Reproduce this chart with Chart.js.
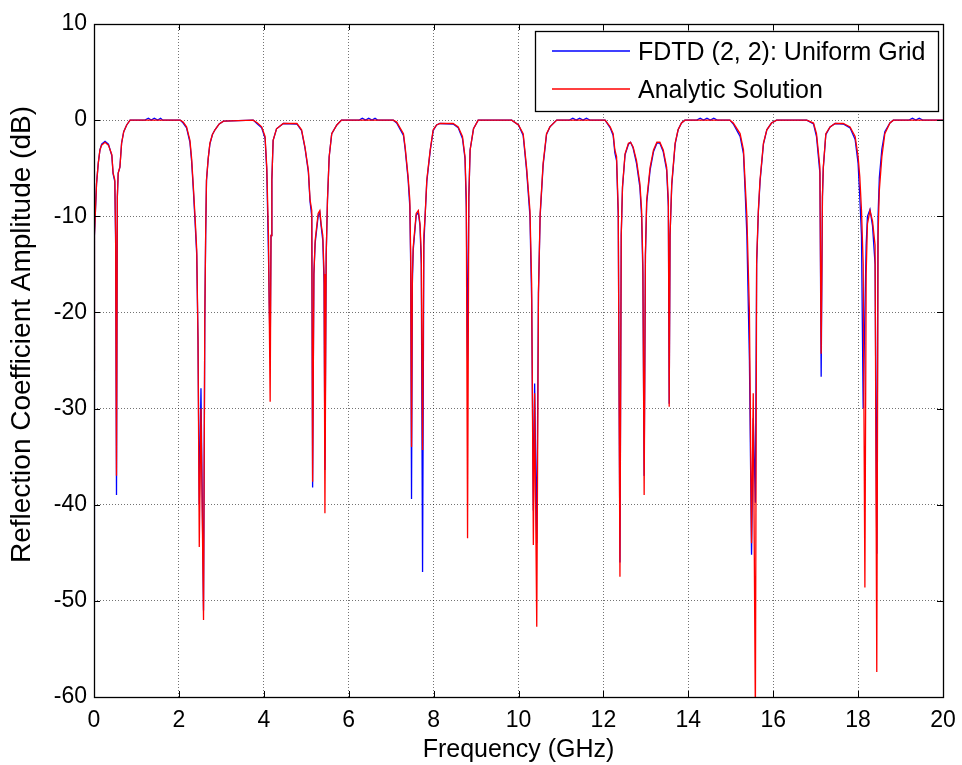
<!DOCTYPE html>
<html>
<head>
<meta charset="utf-8">
<script src="https://cdn.jsdelivr.net/npm/chart.js@4/dist/chart.umd.min.js"></script>
<style>
  html, body { margin: 0; padding: 0; background: #fff; }
  canvas { display: block; }
</style>
</head>
<body>
<canvas id="reflectionChart" width="962" height="765"></canvas>
<script>
/* ---------------- data ---------------- */
const freqGHz = [
  0.00, 0.01, 0.06, 0.10, 0.14, 0.18, 0.26, 0.34, 0.42, 0.45, 0.49, 0.51, 0.53, 0.55, 0.57, 0.61, 0.65, 0.70, 0.77, 0.85,
  1.20, 1.28, 1.35, 1.42, 1.50, 1.57, 1.62,
  2.03, 2.10, 2.18, 2.26, 2.30, 2.34, 2.38, 2.42, 2.45, 2.48, 2.52, 2.58, 2.61, 2.63, 2.65, 2.69, 2.73, 2.79, 2.85, 2.95, 3.05,
  3.75, 3.85, 3.95, 4.03, 4.07, 4.11, 4.15, 4.17, 4.19, 4.22, 4.30, 4.46,
  4.78, 4.89, 4.97, 5.05, 5.09, 5.13, 5.15, 5.18, 5.21, 5.28, 5.32, 5.35, 5.39, 5.42, 5.44, 5.47, 5.50, 5.54, 5.60, 5.72, 5.83,
  6.25, 6.32, 6.40, 6.47, 6.55, 6.62, 6.68,
  7.05, 7.13, 7.29, 7.33, 7.40, 7.44, 7.46, 7.48, 7.50, 7.52, 7.59, 7.64, 7.68, 7.71, 7.74, 7.77, 7.80, 7.84, 7.92, 7.99, 8.07, 8.15,
  8.46, 8.58, 8.68, 8.74, 8.77, 8.80, 8.83, 8.86, 8.94, 9.05,
  9.84, 10.00, 10.11, 10.19, 10.27, 10.31, 10.35, 10.38, 10.43, 10.47, 10.51, 10.58, 10.66, 10.74, 10.90,
  11.20, 11.28, 11.36, 11.44, 11.52, 11.60, 11.68,
  12.04, 12.16, 12.23, 12.27, 12.31, 12.35, 12.39, 12.42, 12.45, 12.51, 12.59, 12.64, 12.70, 12.78, 12.86, 12.90, 12.93, 12.96,
  12.99, 13.02, 13.10, 13.18, 13.26, 13.33, 13.41, 13.49, 13.53, 13.55, 13.57, 13.61, 13.69, 13.76, 13.84, 13.92,
  14.20, 14.28, 14.36, 14.44, 14.52, 14.60, 14.68,
  14.98, 15.06, 15.22, 15.30, 15.34, 15.38, 15.44, 15.49, 15.53, 15.58, 15.61, 15.65, 15.69, 15.77, 15.85, 15.96, 16.08,
  16.79, 16.95, 17.02, 17.06, 17.10, 17.13, 17.16, 17.18, 17.24, 17.34, 17.46,
  17.65, 17.81, 17.93, 18.00, 18.04, 18.08, 18.12, 18.16, 18.19, 18.22, 18.28, 18.34, 18.40, 18.44, 18.47, 18.50, 18.56, 18.63, 18.75, 18.83,
  19.20, 19.28, 19.36, 19.44, 19.52, 20.00
];

const analyticDb = [
  -26, -12, -6.6, -4.5, -3.1, -2.6, -2.3, -2.6, -3.6, -5.5, -6.2, -12, -37, -8, -5.5, -4.9, -2.4, -1.2, -0.5, 0,
  0, 0, 0, 0, 0, 0, 0,
  0, -0.2, -0.7, -2.1, -4, -6.9, -10, -13.5, -22.5, -44.4, -30, -52, -20.8, -12, -6.2, -4, -2.4, -1.5, -1, -0.4, -0.1,
  0, -0.3, -0.7, -1.7, -4.9, -12, -29.3, -12, -6.2, -2.1, -0.9, -0.35,
  -0.35, -1.0, -2.8, -5.2, -8.3, -9.4, -37.6, -16, -12.5, -9.7, -9.4, -10.8, -12, -16, -40.9, -14, -8.3, -3.8, -1.4, -0.5, 0,
  0, 0, 0, 0, 0, 0, 0,
  0, -0.2, -1.4, -2.8, -5.9, -8.3, -14, -34, -16, -13.2, -9.7, -9.4, -10.8, -14, -34.3, -12, -10, -6.2, -3.1, -1.0, -0.5, -0.35,
  -0.35, -0.7, -1.7, -3.8, -8, -43.5, -8, -3.1, -0.9, 0,
  0, -0.5, -1.4, -4.9, -9.4, -17, -44.2, -28.4, -52.7, -18, -9.7, -4.5, -1.4, -0.7, 0,
  0, 0, 0, 0, 0, 0, 0,
  0, -0.7, -1.4, -3.1, -3.8, -9.4, -47.5, -12, -6.9, -3.5, -2.4, -2.3, -2.8, -4.2, -6.6, -9.4, -15, -39,
  -14, -8.3, -4.9, -3.1, -2.3, -2.3, -3.1, -4.9, -8.3, -29.8, -12, -6.6, -2.4, -1.0, -0.3, 0,
  0, 0, 0, 0, 0, 0, 0,
  0, -0.3, -1.4, -3.1, -6.6, -10, -20, -44, -28.4, -62, -14.6, -9.4, -6.2, -2.4, -1.0, -0.3, 0,
  0, -0.3, -1.4, -3.1, -4.9, -24.3, -8, -4.9, -1.4, -0.7, -0.35,
  -0.35, -0.7, -1.7, -3.8, -5.9, -9.4, -15, -48.6, -16, -10.8, -9.4, -10.5, -13, -57.4, -12, -7.3, -3.8, -1.4, -0.3, 0,
  0, 0, 0, 0, 0, 0
];

const fdtdDb = [
  -50, -12, -6.6, -4.5, -3.1, -2.5, -2.2, -2.5, -3.7, -5.6, -6.4, -13, -39, -8, -5.5, -4.9, -2.4, -1.2, -0.5, 0,
  0, 0.2, 0, 0.2, 0, 0.2, 0,
  0, -0.3, -0.8, -2.3, -4.3, -7.2, -10.5, -14, -23, -40, -27.9, -51, -21, -12.2, -6.3, -4, -2.5, -1.5, -1, -0.4, -0.1,
  0, -0.4, -0.8, -1.9, -5.2, -14, -24.6, -12, -6.2, -2.1, -0.9, -0.35,
  -0.4, -1.1, -2.9, -5.4, -8.5, -10, -38.2, -16, -12.8, -10, -9.6, -11, -12.5, -17, -36.4, -14, -8.3, -3.8, -1.4, -0.5, 0,
  0, 0.2, 0, 0.2, 0, 0.2, 0,
  0, -0.3, -1.6, -3.0, -6.2, -9, -15, -39.4, -17, -13.5, -9.9, -9.6, -11, -15, -47, -13, -10, -6.4, -3.2, -1.1, -0.5, -0.35,
  -0.4, -0.8, -1.9, -4, -9, -25, -8, -3.1, -0.9, 0,
  0, -0.5, -1.6, -5.2, -10, -18.7, -40.6, -27.4, -44, -18, -10, -4.7, -1.5, -0.7, 0,
  0, 0.2, 0, 0.2, 0, 0.2, 0,
  0, -0.8, -1.6, -3.4, -4.2, -10, -46, -12, -7, -3.6, -2.5, -2.3, -2.9, -4.5, -7, -10, -16, -37,
  -14, -8.6, -5.2, -3.3, -2.4, -2.4, -3.3, -5.2, -9, -29.5, -12, -6.8, -2.5, -1.0, -0.3, 0,
  0, 0.2, 0, 0.2, 0, 0.2, 0,
  0, -0.4, -1.7, -3.5, -7.5, -12, -25, -45.2, -31, -39.8, -15, -9.6, -6.4, -2.5, -1.0, -0.3, 0,
  0, -0.4, -1.7, -3.6, -5.5, -26.7, -8, -5, -1.5, -0.7, -0.35,
  -0.4, -0.8, -2, -4.5, -8, -12, -30, -20, -13, -10, -9.3, -11, -15, -45.1, -10, -6, -3, -1.2, -0.3, 0,
  0, 0.2, 0, 0.2, 0, 0
];

const xTicks = [0, 2, 4, 6, 8, 10, 12, 14, 16, 18, 20];
const yTicks = [-60, -50, -40, -30, -20, -10, 0, 10];

const seriesLabels = ["FDTD (2, 2): Uniform Grid", "Analytic Solution"];
const yTitle = "Reflection Coefficient Amplitude (dB)";

/* ---------------- helpers / plugins ---------------- */
const FONT = '"Liberation Sans", Arial, sans-serif';

const toPoints = (ys) => freqGHz.map((f, i) => ({ x: f, y: ys[i] }));

// MATLAB style: box around the axes + inward tick marks + boxed legend inside
const matlabFrame = {
  id: "matlabFrame",
  afterDraw(chart) {
    const { ctx, chartArea: a, scales } = chart;
    const xs = scales.x, ys = scales.y;
    const tl = 6;

    ctx.save();
    ctx.strokeStyle = "#000";
    ctx.lineWidth = 1;
    ctx.beginPath();
    xTicks.forEach((v) => {
      const px = Math.round(xs.getPixelForValue(v)) + 0.5;
      ctx.moveTo(px, a.bottom); ctx.lineTo(px, a.bottom - tl);
      ctx.moveTo(px, a.top); ctx.lineTo(px, a.top + tl);
    });
    yTicks.forEach((v) => {
      const py = Math.round(ys.getPixelForValue(v)) + 0.5;
      ctx.moveTo(a.left, py); ctx.lineTo(a.left + tl, py);
      ctx.moveTo(a.right, py); ctx.lineTo(a.right - tl, py);
    });
    ctx.stroke();

    ctx.lineWidth = 1.3;
    ctx.strokeRect(Math.round(a.left) + 0.5, Math.round(a.top) + 0.5,
      Math.round(a.right - a.left), Math.round(a.bottom - a.top));

    // y axis title (MATLAB puts it a little above the centre)
    ctx.save();
    ctx.translate(22, ys.getPixelForValue(-22.3));
    ctx.rotate(-Math.PI / 2);
    ctx.font = "28px " + FONT;
    ctx.fillStyle = "#000";
    ctx.textAlign = "center";
    ctx.textBaseline = "middle";
    ctx.fillText(yTitle, 0, 0);
    ctx.restore();

    // legend
    const lx = Math.round(a.right - 408), ly = Math.round(a.top + 7), lw = 403, lh = 80;
    ctx.fillStyle = "#fff";
    ctx.fillRect(lx, ly, lw, lh);
    ctx.lineWidth = 1.3;
    ctx.strokeRect(lx + 0.5, ly + 0.5, lw, lh);

    const entries = [chart.data.datasets[0], chart.data.datasets[1]];
    ctx.font = "25px " + FONT;
    ctx.textBaseline = "middle";
    entries.forEach((ds, i) => {
      const y = Math.round(ly + 20 + i * 38);
      ctx.strokeStyle = ds.borderColor;
      ctx.lineWidth = 1.5;
      ctx.beginPath();
      ctx.moveTo(lx + 17, y); ctx.lineTo(lx + 95, y);
      ctx.stroke();
      ctx.fillStyle = "#000";
      ctx.fillText(ds.label, lx + 103, y + 2);
    });
    ctx.restore();
  },
};

/* ---------------- chart ---------------- */
const ctx = document.getElementById("reflectionChart").getContext("2d");

new Chart(ctx, {
  type: "scatter",
  data: {
    datasets: [
      {
        label: seriesLabels[0],
        data: toPoints(fdtdDb),
        showLine: true,
        borderColor: "#0000ff",
        borderWidth: 1.3,
        pointRadius: 0,
        tension: 0,
        order: 1,
      },
      {
        label: seriesLabels[1],
        data: toPoints(analyticDb),
        showLine: true,
        borderColor: "#ff0000",
        borderWidth: 1.3,
        pointRadius: 0,
        tension: 0,
        order: 0,
      },
    ],
  },
  options: {
    responsive: false,
    animation: false,
    layout: { padding: { left: 0, right: 19, top: 24, bottom: 0 } },
    plugins: { legend: { display: false }, tooltip: { enabled: false } },
    scales: {
      x: {
        type: "linear",
        min: 0,
        max: 20,
        afterBuildTicks: (s) => { s.ticks = xTicks.map((v) => ({ value: v })); },
        afterFit: (s) => { s.height = 68; s.paddingLeft = 0; s.paddingRight = 0; },
        ticks: { color: "#000", font: { family: FONT, size: 23 }, padding: 10, maxRotation: 0 },
        grid: { color: "rgba(0,0,0,0.55)", lineWidth: 1, drawTicks: false },
        border: { display: false, dash: [1, 2] },
        title: {
          display: true,
          text: "Frequency (GHz)",
          color: "#000",
          font: { family: FONT, size: 25 },
          padding: { top: 0, bottom: 0 },
        },
      },
      y: {
        type: "linear",
        min: -60,
        max: 10,
        afterBuildTicks: (s) => { s.ticks = yTicks.map((v) => ({ value: v })); },
        afterFit: (s) => { s.width = 94; s.paddingTop = 0; s.paddingBottom = 0; },
        ticks: { color: "#000", font: { family: FONT, size: 23 }, padding: 7 },
        grid: { color: "rgba(0,0,0,0.55)", lineWidth: 1, drawTicks: false },
        border: { display: false, dash: [1, 2] },
        title: { display: false },
      },
    },
  },
  plugins: [matlabFrame],
});
</script>
</body>
</html>
